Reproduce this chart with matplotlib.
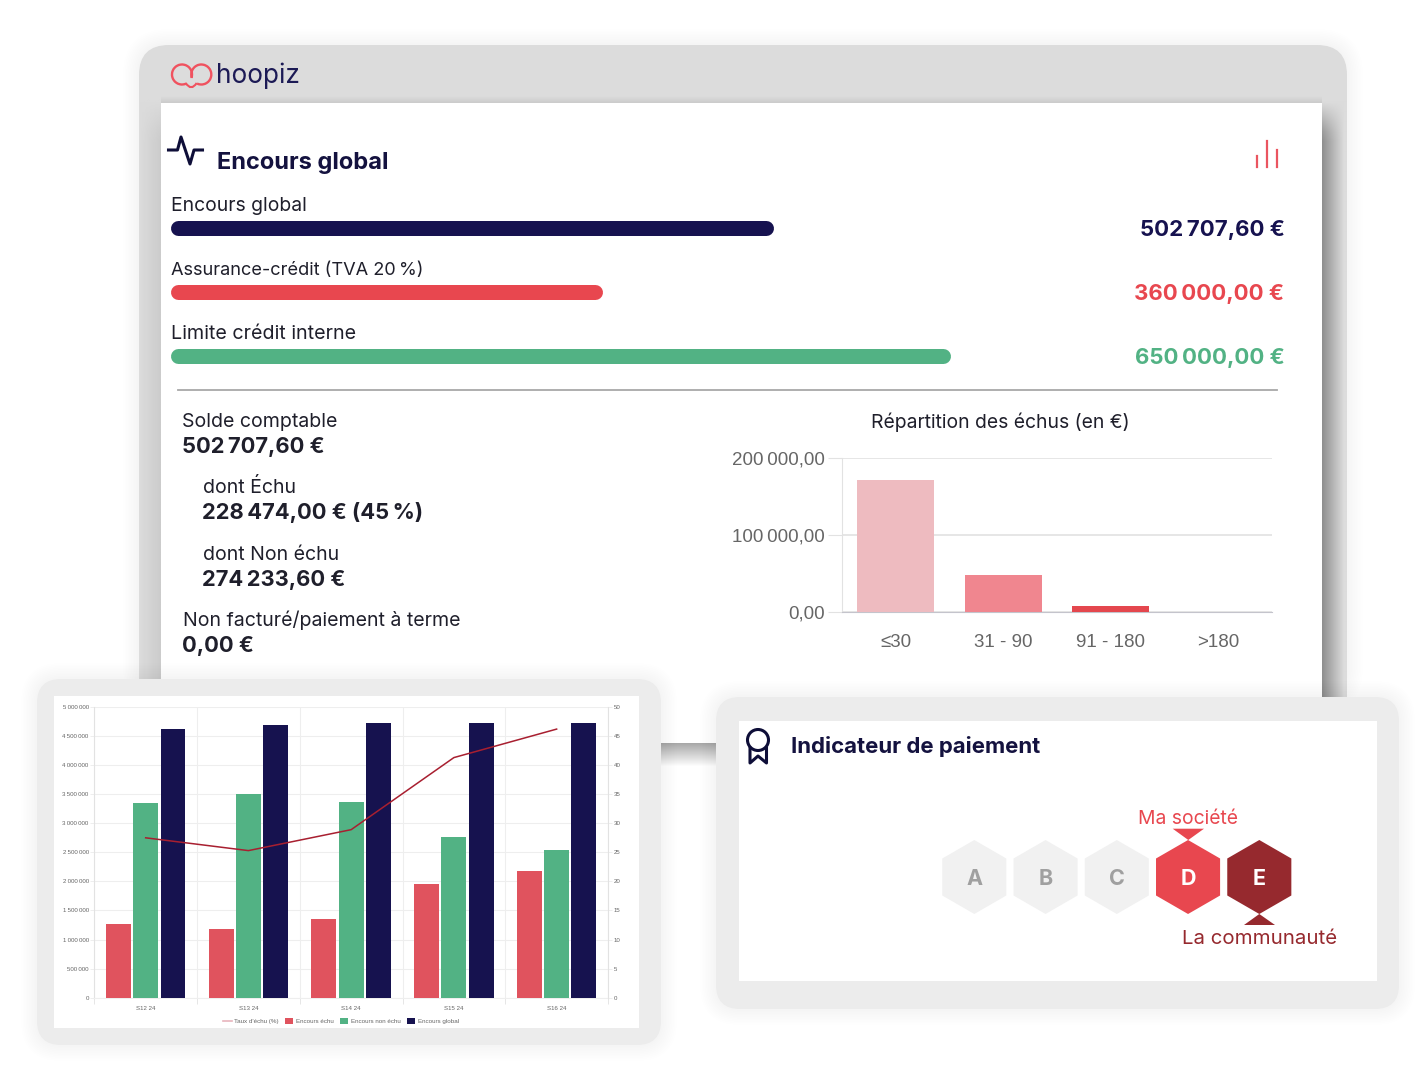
import numpy as np
import matplotlib
matplotlib.use("Agg")
import matplotlib.pyplot as plt
from matplotlib.patches import FancyBboxPatch, RegularPolygon, Polygon, Circle, PathPatch, Arc
from matplotlib.path import Path
from matplotlib.lines import Line2D

W, H = 1418, 1080
NAVY = "#16124f"
RED = "#e8474f"
GREEN = "#52b284"
DARKRED = "#96292e"
TXT = "#1f1f2b"
SANS = ["Inter", "DejaVu Sans"]
CHART = ["Liberation Sans", "DejaVu Sans"]

# progress bars
bar_labels = ["Encours global", "Assurance-crédit (TVA 20\u202f%)", "Limite crédit interne"]
bar_values = [502707.60, 360000.00, 650000.00]
bar_texts = ["502\u202f707,60 €", "360\u202f000,00 €", "650\u202f000,00 €"]
bar_colors = [NAVY, RED, GREEN]

# repartition chart
rep_cats = ["≤30", "31 - 90", "91 - 180", ">180"]
rep_values = [171000, 48000, 8000, 0]
rep_colors = ["#eebbc0", "#f0868f", "#e4474e", "#e4474e"]
rep_ticks = [0, 100000, 200000]
rep_ticklabels = ["0,00", "100\u202f000,00", "200\u202f000,00"]

# weekly chart
weeks = ["S12 24", "S13 24", "S14 24", "S15 24", "S16 24"]
echu = [1270000, 1190000, 1360000, 1950000, 2180000]
non_echu = [3345000, 3500000, 3360000, 2770000, 2540000]
global_ = [4620000, 4695000, 4725000, 4725000, 4725000]
taux = [27.5, 25.3, 28.9, 41.3, 46.2]
left_ticks = [0, 500000, 1000000, 1500000, 2000000, 2500000, 3000000, 3500000, 4000000, 4500000, 5000000]
left_labels = ["0", "500\u202f000", "1\u202f000\u202f000", "1\u202f500\u202f000", "2\u202f000\u202f000", "2\u202f500\u202f000",
               "3\u202f000\u202f000", "3\u202f500\u202f000", "4\u202f000\u202f000", "4\u202f500\u202f000", "5\u202f000\u202f000"]
right_ticks = [0, 5, 10, 15, 20, 25, 30, 35, 40, 45, 50]

# rating
grades = ["A", "B", "C", "D", "E"]
grade_fill = ["#f1f1f1", "#f1f1f1", "#f1f1f1", RED, DARKRED]
grade_text = ["#a0a0a0", "#a0a0a0", "#a0a0a0", "white", "white"]

fig = plt.figure(figsize=(W / 100, H / 100), dpi=100, facecolor="white")
bg = fig.add_axes([0, 0, 1, 1])
bg.set_xlim(0, W)
bg.set_ylim(H, 0)
bg.axis("off")


def px_axes(l, t, r, b):
    return fig.add_axes([l / W, 1 - b / H, (r - l) / W, (b - t) / H])


def rrect(l, t, r, b, rad, color, z, alpha=1):
    bg.add_patch(FancyBboxPatch((l, t), r - l, b - t, boxstyle=f"round,pad=0,rounding_size={rad}",
                                fc=color, ec="none", alpha=alpha, zorder=z))


def shadow(l, t, r, b, rad, z, steps=10, spread=16):
    for i in range(steps):
        g = spread * (1 - i / steps)
        rrect(l - g, t - g, r + g, b + g, rad + g, "#000000", z, alpha=0.0035)


def txt(x, y, s, size=14, color=TXT, weight="normal", ha="left", va="baseline", z=10):
    bg.text(x, y, s, fontsize=size, color=color, fontweight=weight, ha=ha, va=va, family=SANS, zorder=z)


def grad(arr, l, t, r, b, z):
    bg.imshow(arr, extent=(l, r, b, t), cmap="gray", vmin=0, vmax=1, aspect="auto",
              interpolation="bilinear", zorder=z)


# main window
shadow(139, 45, 1347, 697, 30, 1)
rrect(139, 45, 1347, 720, 30, "#dcdcdc", 2)
xr = np.linspace(0, 1, 25)
ramp_r = 0.56 + (0.86 - 0.56) * np.clip(xr / 0.9, 0, 1)
fade = np.clip(np.linspace(0, 1, 60) / 0.06, 0, 1)[:, None]
grad(0.86 + (ramp_r[None, :] - 0.86) * fade, 1322, 97, 1347, 697, 3)
ramp_l = np.linspace(0.86, 0.80, 10)
grad(0.86 + (ramp_l[None, :] - 0.86) * fade, 139, 97, 161, 697, 3)
grad(np.linspace(0.86, 0.80, 8)[:, None], 161, 96, 1322, 103, 3)
bg.add_patch(plt.Rectangle((161, 103), 1161, 600, fc="white", ec="none", zorder=4))
# the window is cut off level with the top of the cards
bg.add_patch(plt.Rectangle((120, 697), 1250, 60, fc="white", ec="none", zorder=4.5))
bg.set_xlim(0, W)
bg.set_ylim(H, 0)

# logo
bg.add_patch(Arc((182, 74.5), 20, 20, theta1=65, theta2=380, ec="#f0525f", lw=1.7, zorder=6))
bg.add_patch(Arc((201.3, 74.5), 20, 20, theta1=160, theta2=475, ec="#f0525f", lw=1.7, zorder=6))
smile = Path([(185.7, 83), (191.2, 91.5), (196.7, 83)], [Path.MOVETO, Path.CURVE3, Path.CURVE3])
bg.add_patch(PathPatch(smile, fc="none", ec="#f0525f", lw=1.5, zorder=6))
txt(216.5, 83, "hoopiz", size=18.8, color="#1c1a55")

# header
bg.plot([168.5, 177.5, 181, 190, 194, 202.5], [150, 150, 137, 164, 150, 150], color="#0e0e38", lw=2.2, zorder=6,
        solid_joinstyle="round")
txt(217, 169, "Encours global", size=17, color="#14123f", weight="bold")
for x, top in [(1257.3, 155.5), (1267, 140.5), (1276.5, 149.5)]:
    bg.plot([x, x], [top, 166.5], color="#ea5560", lw=1.6, zorder=6)

# progress bars, 0.0012 px per euro
prog = px_axes(170.5, 196, 1170.5, 388)
prog.set_xlim(0, 1000 / 0.0012)
prog.set_ylim(2.5, -0.5)
prog.axis("off")
cap = 7.5 / 0.0012
label_sizes = [13.9, 13.1, 14.2]
for i, (lab, val, t, c) in enumerate(zip(bar_labels, bar_values, bar_texts, bar_colors)):
    prog.plot([cap, val - cap], [i, i], color=c, lw=10.8, solid_capstyle="round")
    txt(171, 211 + 64 * i, lab, size=label_sizes[i])
    txt(1284.5, 236 + 64 * i, t, size=16, color=c, weight="bold", ha="right")
bg.plot([178, 1277], [390, 390], color="#a8a8a8", lw=1.3, zorder=6)

# balances
rows = [(182, 427, "Solde comptable", "502\u202f707,60 €"),
        (203, 493, "dont Échu", "228\u202f474,00 € (45\u202f%)"),
        (203, 560, "dont Non échu", "274\u202f233,60 €"),
        (183, 626, "Non facturé/paiement à terme", "0,00 €")]
for x, y, lab, val in rows:
    txt(x, y, lab, size=14.05)
    txt(x - 0.5, y + 26, val, size=15.8, weight="bold")

# repartition chart
txt(1000.5, 428, "Répartition des échus (en €)", size=13.9, ha="center")
ax = px_axes(842, 458, 1272, 612)
ax.bar(range(4), rep_values, width=0.72, color=rep_colors, zorder=3)
ax.set_xlim(-0.5, 3.5)
ax.set_ylim(0, 200000)
ax.set_xticks(range(4), rep_cats, family=CHART, fontsize=13.5, color="#666666")
ax.set_yticks(rep_ticks, rep_ticklabels, family=CHART, fontsize=13.5, color="#666666")
ax.tick_params(axis="x", length=0, pad=16)
ax.tick_params(axis="y", length=10, color="#e2e2e2", pad=2.5)
ax.grid(axis="y", color="#e2e2e2", lw=1.2, zorder=0)
for s in ["top", "right"]:
    ax.spines[s].set_visible(False)
ax.spines["left"].set_color("#e2e2e2")
ax.spines["bottom"].set_color("#c4c4cc")

# connector between the cards
grad(np.linspace(0.66, 1, 24)[:, None], 661, 743, 717, 767, 5)
bg.set_xlim(0, W)
bg.set_ylim(H, 0)

# weekly card
shadow(37, 679, 661, 1045, 24, 6)
rrect(37, 679, 661, 1045, 24, "#ececec", 7)
bg.add_patch(plt.Rectangle((54, 696), 585, 332, fc="white", ec="none", zorder=8))

# rating card
shadow(716, 697, 1399, 1009, 24, 6)
rrect(716, 697, 1399, 1009, 24, "#ececec", 7)
bg.add_patch(plt.Rectangle((739, 721), 638, 260, fc="white", ec="none", zorder=8))
txt(791, 753, "Indicateur de paiement", size=15.95, color="#14123f", weight="bold")
bg.add_patch(Circle((758, 740), 10.5, fc="none", ec="#0e0e38", lw=2.2, zorder=10))
bg.plot([750, 750, 758, 766.5, 766.5], [748, 763, 756, 763, 748], color="#0e0e38", lw=2.2, zorder=10,
        solid_joinstyle="round")

for i, g in enumerate(grades):
    cx = 974.3 + 71.25 * i
    bg.add_patch(RegularPolygon((cx, 877), 6, radius=37, fc=grade_fill[i], ec="none", zorder=9))
    txt(cx, 877, g, size=15.5, color=grade_text[i], weight="bold", ha="center", va="center_baseline")
bg.add_patch(Polygon([(1172.7, 828.7), (1204, 828.7), (1188.3, 840)], fc=RED, ec="none", zorder=9))
bg.add_patch(Polygon([(1244, 925), (1275, 925), (1259.3, 914)], fc=DARKRED, ec="none", zorder=9))
txt(1188.3, 824, "Ma société", size=13.9, color=RED, ha="center")
txt(1259.5, 944, "La communauté", size=14.7, color=DARKRED, ha="center")

# weekly chart
ax2 = px_axes(94.3, 707, 608, 997.7)
ax2.set_facecolor("none")
x = np.arange(5)
off = 0.266
bw = 0.243
b1 = ax2.bar(x - off, echu, bw, color="#e0535e", zorder=3, label="Encours échu")
b2 = ax2.bar(x, non_echu, bw, color=GREEN, zorder=3, label="Encours non échu")
b3 = ax2.bar(x + off, global_, bw, color=NAVY, zorder=3, label="Encours global")
ax2.set_xlim(-0.5, 4.5)
ax2.set_ylim(0, 5000000)
ax2.set_xticks(x, weeks, family=CHART, fontsize=4.4, color="#666666")
ax2.set_xticks(np.arange(-0.5, 5), minor=True)
ax2.set_yticks(left_ticks, left_labels, family=CHART, fontsize=4.4, color="#666666")
ax2.tick_params(axis="x", which="major", length=0, pad=6)
ax2.tick_params(axis="x", which="minor", length=4, color="#e6e6e6", width=0.7)
ax2.tick_params(axis="y", length=3, color="#eeeeee", width=0.7, pad=1)
ax2.grid(axis="y", color="#eeeeee", lw=0.8, zorder=0)
ax2.grid(axis="x", which="minor", color="#eeeeee", lw=0.8, zorder=0)
for s in ["top", "right"]:
    ax2.spines[s].set_visible(False)
ax2.spines["left"].set_color("#e2e2e2")
ax2.spines["bottom"].set_color("#eeeeee")

ax3 = ax2.twinx()
ax3.set_ylim(0, 50)
ax3.plot(x, taux, color="#a81f30", lw=1.1, zorder=5, solid_joinstyle="miter")
ax3.set_yticks(right_ticks, [str(v) for v in right_ticks], family=CHART, fontsize=4.4, color="#666666")
ax3.tick_params(axis="y", length=3, color="#eeeeee", width=0.7, pad=1)
for s in ["top", "left", "bottom"]:
    ax3.spines[s].set_visible(False)
ax3.spines["right"].set_color("#e2e2e2")

handles = [Line2D([], [], color="#e8b4bc", lw=1.2), b1, b2, b3]
names = ["Taux d'échu (%)", "Encours échu", "Encours non échu", "Encours global"]
ax2.legend(handles, names, loc="center", frameon=False, ncol=4,
           prop={"family": CHART, "size": 4.5}, labelcolor="#666666", handlelength=1.4, handleheight=1.1,
           handletextpad=0.45, columnspacing=0.9, borderpad=0)
leg = ax2.get_legend()
leg.set_bbox_to_anchor((341 / W, 1 - 1021 / H), transform=fig.transFigure)
leg.set_zorder(20)

fig.savefig("out.png", dpi=100)
